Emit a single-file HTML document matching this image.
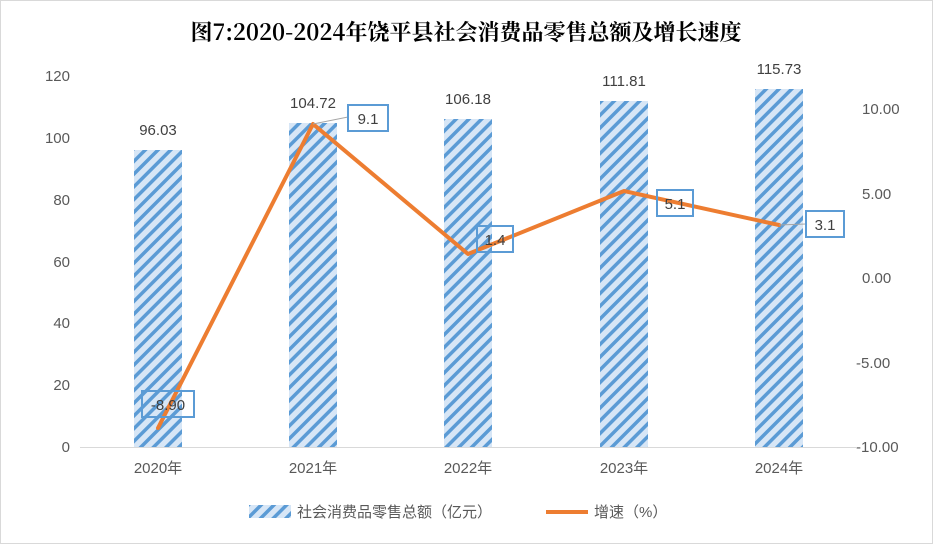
<!DOCTYPE html>
<html><head><meta charset="utf-8"><style>
body{margin:0;background:#fff}
svg{display:block;font-family:"Liberation Sans","Noto Sans CJK SC",sans-serif}
</style></head><body>
<svg width="933" height="544" viewBox="0 0 933 544">
<defs>
<pattern id="h" patternUnits="userSpaceOnUse" width="9" height="9" patternTransform="rotate(45)">
<rect width="9" height="9" fill="#d7e6f6"/>
<rect width="3.5" height="9" fill="#5b9bd5"/>
</pattern>
</defs>
<rect x="0.5" y="0.5" width="932" height="543" fill="#fff" stroke="#d9d9d9"/>
<text x="466" y="40" text-anchor="middle" font-size="22" font-weight="bold" font-family="'Noto Serif CJK SC','Liberation Serif',serif" fill="#000">图7:2020-2024年饶平县社会消费品零售总额及增长速度</text>
<g font-size="15" fill="#595959" text-anchor="end">
<text x="70" y="452">0</text><text x="70" y="390">20</text><text x="70" y="328">40</text><text x="70" y="267">60</text><text x="70" y="205">80</text><text x="70" y="143">100</text><text x="70" y="81">120</text>
</g>
<g font-size="15" fill="#595959" text-anchor="start">
<text x="862" y="114">10.00</text><text x="862" y="199">5.00</text><text x="862" y="283">0.00</text><text x="856" y="368">-5.00</text><text x="856" y="452">-10.00</text>
</g>
<line x1="80" y1="447.5" x2="857" y2="447.5" stroke="#d9d9d9"/>
<g fill="url(#h)">
<rect x="134" y="150" width="48" height="297"/>
<rect x="289" y="123" width="48" height="324"/>
<rect x="444" y="119" width="48" height="328"/>
<rect x="600" y="101" width="48" height="346"/>
<rect x="755" y="89" width="48" height="358"/>
</g>
<g font-size="15" fill="#404040" text-anchor="middle">
<text x="158" y="135">96.03</text><text x="313" y="108">104.72</text><text x="468" y="104">106.18</text><text x="624" y="86">111.81</text><text x="779" y="74">115.73</text>
</g>
<g font-size="15" fill="#595959" text-anchor="middle">
<text x="158" y="473">2020年</text><text x="313" y="473">2021年</text><text x="468" y="473">2022年</text><text x="624" y="473">2023年</text><text x="779" y="473">2024年</text>
</g>
<polyline points="158,428 313,124 468,254 624,191 779,225" fill="none" stroke="#ed7d31" stroke-width="4" stroke-linejoin="round" stroke-linecap="round"/>
<g stroke="#a6a6a6" fill="none"><line x1="313" y1="124" x2="348" y2="117"/><line x1="779" y1="225" x2="806" y2="224"/></g>
<g fill="none" stroke="#5b9bd5" stroke-width="2">
<rect x="142" y="391" width="52" height="26"/>
<rect x="348" y="105" width="40" height="26"/>
<rect x="477" y="226" width="36" height="26"/>
<rect x="657" y="190" width="36" height="26"/>
<rect x="806" y="211" width="38" height="26"/>
</g>
<g font-size="15" fill="#404040" text-anchor="middle">
<text x="168" y="410">-8.90</text><text x="368" y="124">9.1</text><text x="495" y="245">1.4</text><text x="675" y="209">5.1</text><text x="825" y="230">3.1</text>
</g>
<rect x="249" y="505" width="42" height="13" fill="url(#h)"/>
<text x="297" y="517" font-size="15" fill="#595959">社会消费品零售总额（亿元）</text>
<line x1="546" y1="512" x2="588" y2="512" stroke="#ed7d31" stroke-width="4"/>
<text x="594" y="517" font-size="15" fill="#595959">增速（%）</text>
</svg>
</body></html>
